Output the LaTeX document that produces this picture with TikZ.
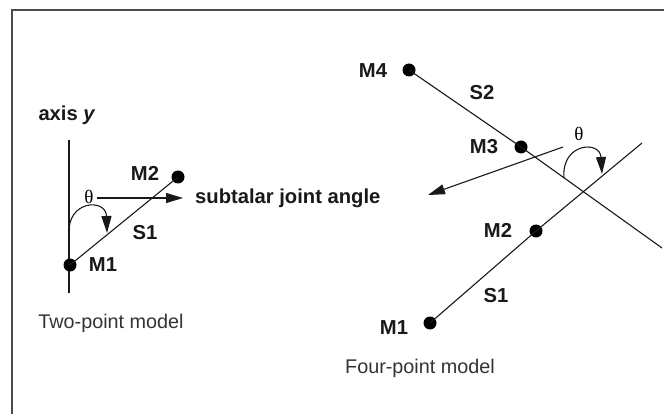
\documentclass[tikz,border=0pt]{standalone}
\usepackage{fontspec}
\setmainfont{Liberation Sans}
\newfontfamily\thetafont{Liberation Serif}
\usetikzlibrary{arrows.meta}
\tikzset{
  lbl/.style={font=\fontsize{20.2}{23}\selectfont\bfseries, inner sep=0pt, text=black!90},
  captext/.style={font=\fontsize{19.8}{23}\selectfont, inner sep=0pt, text=black!80},
  thlbl/.style={font=\thetafont\fontsize{19}{22}\selectfont, inner sep=0pt},
  dotnode/.style={circle, fill=black, minimum size=13pt, inner sep=0pt},
  ln/.style={line width=1.1pt, black!90},
  arr/.style={line width=1.1pt, black!90, -{Triangle[length=17pt,width=10pt]}},
  frm/.style={line width=2.2pt, black!70}
}
\begin{document}
\begin{tikzpicture}[x=1pt,y=-1pt]
\useasboundingbox (0,0) rectangle (664,414);
\fill[white] (0,0) rectangle (664,414);
% frame
\coordinate (fa) at (12,420);
\coordinate (fb) at (12,10);
\coordinate (fc) at (670,10);
\draw[frm] (fa) -- (fb) -- (fc);

% ---------- Two-point model ----------
\node[lbl] (axis) at (67,115) {axis \textit{y}};
\coordinate (ytop) at (69,140);
\coordinate (ybot) at (69,293);
\draw[ln] (ytop) -- (ybot);
\node[dotnode] (a1) at (70,265) {};
\node[dotnode] (a2) at (178,177) {};
\draw[ln] (a1.center) -- (a2.center);
\node[lbl] (a1l) at (103,265) {M1};
\node[lbl] (a2l) at (145,173) {M2};
\node[lbl] (s1l) at (145,233) {S1};
\node[thlbl] (thL) at (89,197) {θ};
\coordinate (thLs) at (97,198);
\coordinate (thLend) at (183,198);
\draw[arr] (thLs) -- (thLend);
\node[lbl, anchor=west] (sja) at (195,198) {subtalar joint angle};
\coordinate (arcLs) at (69,234);
\coordinate (arcLe) at (107,233);
\draw[arr] (arcLs) .. controls (67,200) and (106,198) .. (arcLe);
\node[captext] (twop) at (111,323) {Two-point model};

% ---------- Four-point model ----------
\node[dotnode] (b4) at (409,70) {};
\node[dotnode] (b3) at (521,147) {};
\node[dotnode] (b2) at (536,231) {};
\node[dotnode] (b1) at (430,323) {};
\coordinate (s2end) at (662,248);
\coordinate (s1end) at (642,143);
\draw[ln] (b4.center) -- (b3.center) -- (s2end);
\draw[ln] (b1.center) -- (b2.center) -- (s1end);
\node[lbl] (b4l) at (373,71) {M4};
\node[lbl] (b3l) at (484,147) {M3};
\node[lbl] (b2l) at (498,230) {M2};
\node[lbl] (b1l) at (394,328) {M1};
\node[lbl] (s2l) at (482,93) {S2};
\node[lbl] (s1lr) at (496,296) {S1};
\node[thlbl] (thR) at (579,134) {θ};
\coordinate (arrRs) at (563,147);
\coordinate (arrRe) at (428,195);
\draw[arr] (arrRs) -- (arrRe);
\coordinate (arcRs) at (564,178);
\coordinate (arcRe) at (602,174);
\draw[arr] (arcRs) .. controls (561,143) and (600,140) .. (arcRe);
\node[captext] (fourp) at (420,368) {Four-point model};
\end{tikzpicture}
\end{document}
